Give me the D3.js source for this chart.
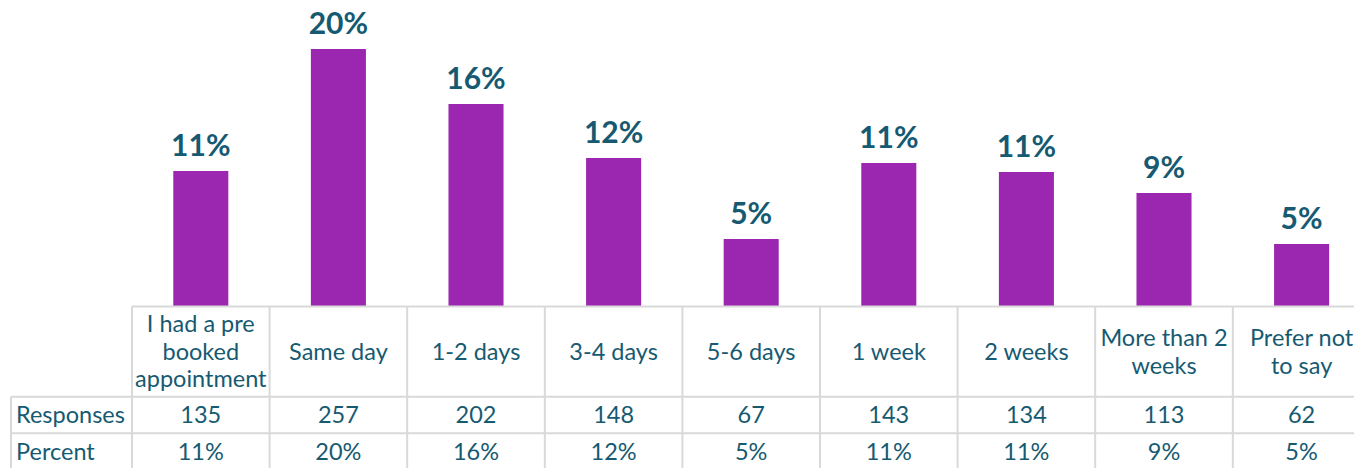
<!DOCTYPE html>
<html>
<head>
<meta charset="utf-8">
<script src="https://cdn.jsdelivr.net/npm/d3@7"></script>
<style>
  html, body { margin: 0; padding: 0; background: #fff; }
  svg { display: block; font-family: Lato, "Open Sans", sans-serif; }
</style>
</head>
<body>
<svg id="chart" width="1354" height="468"></svg>
<script>
// Data
const categories = [
  "I had a pre\nbooked\nappointment",
  "Same day",
  "1-2 days",
  "3-4 days",
  "5-6 days",
  "1 week",
  "2 weeks",
  "More than 2\nweeks",
  "Prefer not\nto say"
];
const responses = [135, 257, 202, 148, 67, 143, 134, 113, 62];
const percents = [11, 20, 16, 12, 5, 11, 11, 9, 5];
const rowLabels = ["Responses", "Percent"];

const TEXT = "#165a72";
const BAR = "#9b26af";
const GRID = "#d9d9d9";

const svg = d3.select("#chart");

// layout
const tableLeft = 11, colLeft = 132, colRight = 1370.4;
const baseline = 306;
const headTop = 306.5, row1Top = 396.7, row2Top = 433.3, rowBottom = 471;

const idx = d3.range(categories.length);

// column band (cells) and bar band (bars centred in cells)
const xCol = d3.scaleBand().domain(idx).range([colLeft, colRight]).padding(0);
const xBar = d3.scaleBand().domain(idx).range([colLeft, colRight])
  .paddingInner(0.6).paddingOuter(0.3);

const y = d3.scaleLinear()
  .domain([0, d3.max(responses)])
  .range([baseline, 49]);

// bars
svg.append("g").selectAll("rect")
  .data(idx)
  .join("rect")
  .attr("x", i => xBar(i))
  .attr("width", xBar.bandwidth())
  .attr("y", i => y(responses[i]))
  .attr("height", i => baseline - y(responses[i]))
  .attr("fill", BAR);

// value labels above bars
svg.append("g").selectAll("text")
  .data(idx)
  .join("text")
  .attr("x", i => xBar(i) + xBar.bandwidth() / 2)
  .attr("y", i => y(responses[i]) - 15)
  .attr("text-anchor", "middle")
  .attr("fill", TEXT)
  .attr("font-weight", "bold")
  .attr("font-size", 30)
  .text(i => percents[i] + "%");

// table grid
const grid = svg.append("g")
  .attr("stroke", GRID)
  .attr("stroke-width", 2)
  .attr("fill", "none");

grid.append("line").attr("x1", colLeft).attr("x2", colRight + 1).attr("y1", headTop).attr("y2", headTop);
[row1Top, row2Top].forEach(yy => {
  grid.append("line").attr("x1", tableLeft).attr("x2", colRight + 1).attr("y1", yy).attr("y2", yy);
});
grid.append("line").attr("x1", tableLeft).attr("x2", tableLeft).attr("y1", row1Top).attr("y2", rowBottom);
idx.concat([categories.length]).forEach(i => {
  const xx = i < categories.length ? xCol(i) : colRight;
  grid.append("line").attr("x1", xx).attr("x2", xx).attr("y1", headTop).attr("y2", rowBottom);
});

// header cells
const headMid = (headTop + row1Top) / 2;
const lineH = 27.5;
const head = svg.append("g")
  .attr("fill", TEXT)
  .attr("font-size", 23.5)
  .attr("text-anchor", "middle");

head.selectAll("text")
  .data(idx)
  .join("text")
  .attr("transform", i => `translate(${xCol(i) + xCol.bandwidth() / 2},${headMid})`)
  .each(function(i) {
    const lines = categories[i].split("\n");
    const t = d3.select(this);
    lines.forEach((ln, k) => {
      t.append("tspan")
        .attr("x", 0)
        .attr("y", (k - (lines.length - 1) / 2) * lineH)
        .attr("dy", "0.35em")
        .text(ln);
    });
  });

// data rows
const rows = [
  { label: rowLabels[0], values: responses.map(String), top: row1Top, bottom: row2Top },
  { label: rowLabels[1], values: percents.map(p => p + "%"), top: row2Top, bottom: rowBottom }
];

const rowG = svg.append("g").attr("fill", TEXT).attr("font-size", 23.5);

rows.forEach(r => {
  const mid = (r.top + r.bottom) / 2;
  rowG.append("text")
    .attr("x", tableLeft + 5)
    .attr("y", mid)
    .attr("dy", "0.35em")
    .text(r.label);
  rowG.append("g").selectAll("text")
    .data(idx)
    .join("text")
    .attr("x", i => xCol(i) + xCol.bandwidth() / 2)
    .attr("y", mid)
    .attr("dy", "0.35em")
    .attr("text-anchor", "middle")
    .text(i => r.values[i]);
});
</script>
</body>
</html>
